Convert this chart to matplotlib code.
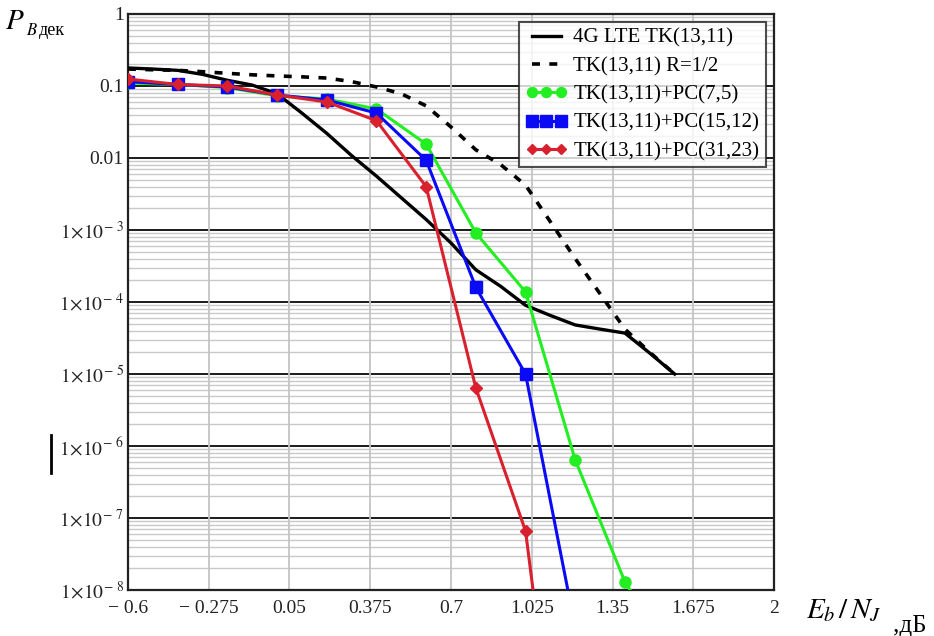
import numpy as np
import matplotlib
matplotlib.use("Agg")
import matplotlib.pyplot as plt
from matplotlib.lines import Line2D
from matplotlib.ticker import FixedLocator, FuncFormatter

plt.rcParams['font.family'] = ['Liberation Serif', 'DejaVu Serif']
plt.rcParams['mathtext.fontset'] = 'stix'

# --- data ---
ebn_lte = [-0.6, -0.5, -0.4, -0.3, -0.2, -0.1, 0.0, 0.1, 0.2, 0.3, 0.4, 0.5,
           0.6, 0.7, 0.8, 0.9, 1.0, 1.1, 1.2, 1.3, 1.4, 1.5, 1.6]
ber_lte = [0.178, 0.172, 0.165, 0.145, 0.12, 0.103, 0.078, 0.042, 0.022, 0.0108,
           0.0056, 0.0028, 0.0014, 6.6e-4, 2.8e-4, 1.65e-4, 9e-5, 6.5e-5, 4.8e-5,
           4.2e-5, 3.7e-5, 1.95e-5, 1.0e-5]
ber_half = [0.172, 0.168, 0.165, 0.158, 0.150, 0.143, 0.138, 0.134, 0.129, 0.115,
            0.097, 0.078, 0.053, 0.027, 0.013, 0.0081, 0.0042, 0.0013, 4e-4,
            1.3e-4, 4.2e-5, 2e-5, 1e-5]

ebn_pc = [-0.6, -0.4, -0.2, 0.0, 0.2, 0.4, 0.6, 0.8, 1.0, 1.2, 1.4, 1.6]
ber_pc75 = [0.11, 0.105, 0.095, 0.073, 0.066, 0.048, 0.0156, 9.1e-4, 1.38e-4,
            6.4e-7, 1.3e-8, 1e-9]
ber_pc1512 = [0.115, 0.105, 0.097, 0.075, 0.064, 0.042, 0.0093, 1.6e-4, 1e-5,
              3e-9]
ber_pc3123 = [0.125, 0.105, 0.1, 0.075, 0.06, 0.033, 0.004, 6.4e-6, 6.6e-8,
              2.5e-13]

labels = ['4G LTE TK(13,11)', 'TK(13,11) R=1/2', 'TK(13,11)+PC(7,5)',
          'TK(13,11)+PC(15,12)', 'TK(13,11)+PC(31,23)']
xticks = [-0.6, -0.275, 0.05, 0.375, 0.7, 1.025, 1.35, 1.675, 2]
xtick_labels = ['\u2212 0.6', '\u2212 0.275', '0.05', '0.375', '0.7', '1.025',
                '1.35', '1.675', '2']

fig = plt.figure(figsize=(9.34, 6.36), dpi=100)
ax = fig.add_axes([128 / 934, 46 / 636, 646 / 934, 576 / 636])

ax.set_yscale('log')
ax.set_xlim(-0.6, 2)
ax.set_ylim(1e-8, 1)

# grid: gray minor lines, black decade lines, gray verticals
for d in range(-8, 0):
    for m in range(2, 10):
        ax.axhline(m * 10.0 ** d, color='#c9c9c9', lw=1.0, zorder=0)
for d in range(-7, 0):
    ax.axhline(10.0 ** d, color='#1a1a1a', lw=1.4, zorder=1)
for xv in xticks[1:-1]:
    ax.axvline(xv, color='#c4c4c4', lw=1.3, zorder=1)

ax.plot(ebn_lte, ber_lte, color='black', lw=2.4, zorder=3, label=labels[0])
ax.plot(ebn_lte, ber_half, color='black', lw=2.6, ls=(0, (2.2, 2.6)), zorder=3,
        label=labels[1])
ax.plot(ebn_pc, ber_pc75, color='#22ee22', lw=2.2, marker='o', ms=8,
        zorder=4, label=labels[2])
ax.plot(ebn_pc[:len(ber_pc1512)], ber_pc1512, color='#0a0af5', lw=2.2,
        marker='s', ms=9, zorder=5, label=labels[3])
ax.plot(ebn_pc[:len(ber_pc3123)], ber_pc3123, color='#d8202e', lw=2.2,
        marker='D', ms=6, zorder=6, label=labels[4])

ax.xaxis.set_major_locator(FixedLocator(xticks))
ax.set_xticklabels(xtick_labels)
ax.yaxis.set_major_locator(FixedLocator([10.0 ** k for k in range(-8, 1)]))
ax.yaxis.set_minor_locator(FixedLocator([]))


def yfmt(v, pos):
    k = int(round(np.log10(v)))
    if k == 0:
        return '1'
    if k == -1:
        return '0.1'
    if k == -2:
        return '0.01'
    return r'$1\!\times\!10^{\!-\,%d}$' % (-k)


ax.yaxis.set_major_formatter(FuncFormatter(yfmt))
ax.tick_params(axis='both', length=0, labelsize=14, colors='#222222')
ax.tick_params(axis='x', pad=7)
ax.tick_params(axis='y', pad=3)

for s in ax.spines.values():
    s.set_color('#222222')
    s.set_linewidth(1.6)

leg = ax.legend(loc='upper right', bbox_to_anchor=(0.987, 0.986),
                borderaxespad=0, numpoints=3, fontsize=15, frameon=True,
                fancybox=False, handlelength=2.0, handletextpad=0.3,
                labelspacing=0.42, borderpad=0.3, markerscale=0.9)
leg.get_frame().set_edgecolor('#222222')
leg.get_frame().set_linewidth(1.5)
leg.set_zorder(10)

# axis captions
fig.text(5 / 934, 1 - 29 / 636, r'$P$', fontsize=21)
fig.text(26 / 934, 1 - 35 / 636, r'$B$', fontsize=12)
fig.text(39 / 934, 1 - 35 / 636, 'дек', fontsize=13)

fig.text(806 / 934, 1 - 618 / 636, r'$E_b\,/\,N_J$', fontsize=21)
fig.text(893 / 934, 1 - 632 / 636, ',дБ', fontsize=18)

# stray bar at the left
fig.add_artist(Line2D([51 / 934, 51 / 934], [1 - 435 / 636, 1 - 473 / 636],
                      transform=fig.transFigure, color='black', lw=2))

fig.savefig('out.png', dpi=100)
